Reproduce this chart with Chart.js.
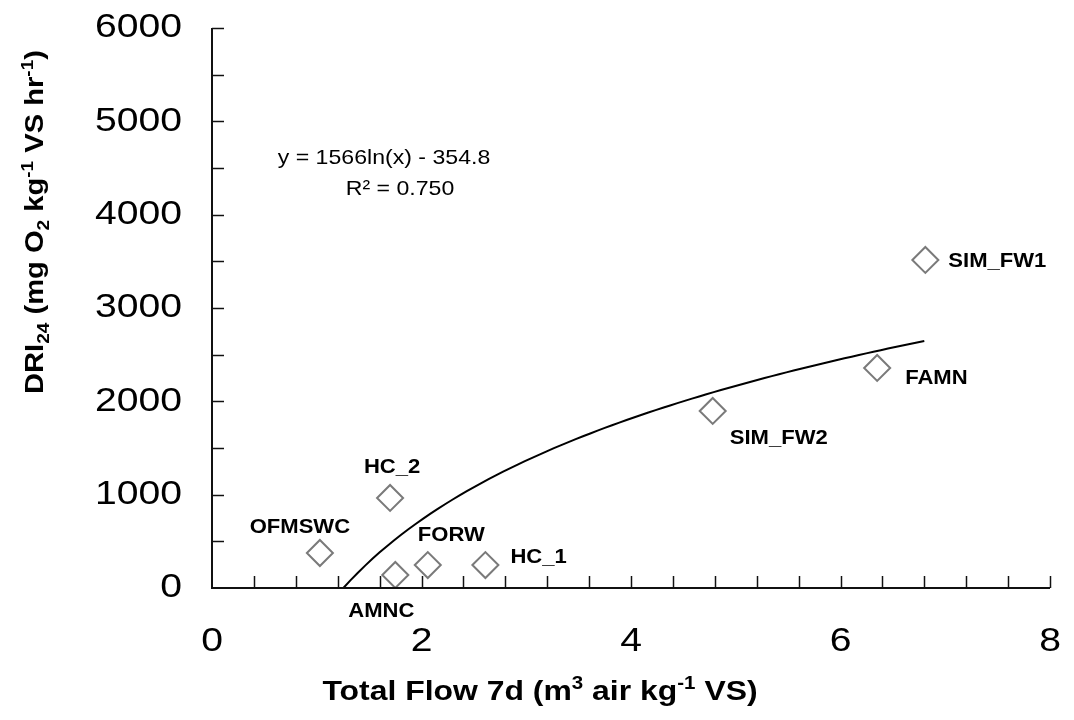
<!DOCTYPE html>
<html><head><meta charset="utf-8">
<script src="https://cdn.jsdelivr.net/npm/chart.js@4.4.0/dist/chart.umd.min.js"></script>
<style>html,body{margin:0;padding:0;background:#fff}#wrap{width:1074px;height:720px}</style>
</head><body><div id="wrap"><canvas id="c" width="1074" height="720"></canvas></div>
<script>
// ---- data ----
const sampleNames = ['OFMSWC','HC_2','AMNC','FORW','HC_1','SIM_FW2','FAMN','SIM_FW1'];
const totalFlow7d = [1.03, 1.70, 1.75, 2.06, 2.61, 4.78, 6.35, 6.81];
const dri24 = [375, 965, 140, 246, 246, 1897, 2358, 3515];
const xTickLabels = [0, 2, 4, 6, 8];
const yTickLabels = [0, 1000, 2000, 3000, 4000, 5000, 6000];
const fitA = 1566, fitB = -354.8, fitR2 = '0.750';
const fitRange = [1.254, 6.8];

// label placement (pixel offsets from the point, style only)
const labelPos = {
  OFMSWC: {dx: -20, dy: -26, align: 'center'},
  HC_2: {dx: 2, dy: -31, align: 'center'},
  AMNC: {dx: -14, dy: 36, align: 'center'},
  FORW: {dx: -10, dy: -30, align: 'left'},
  HC_1: {dx: 25, dy: -8, align: 'left'},
  SIM_FW2: {dx: 17, dy: 27, align: 'left'},
  FAMN: {dx: 28, dy: 10, align: 'left'},
  SIM_FW1: {dx: 23, dy: 1, align: 'left'}
};

const trend = [];
for (let i = 0; i <= 80; i++) {
  const x = fitRange[0] + (fitRange[1] - fitRange[0]) * i / 80;
  trend.push({x: x, y: fitA * Math.log(x) + fitB});
}
const points = totalFlow7d.map((x, i) => ({x: x, y: dri24[i]}));

const SANS = '"Liberation Sans", Arial, sans-serif';

function stretchText(ctx, txt, x, y, font, align, sx) {
  ctx.save();
  ctx.font = font;
  ctx.translate(x, y);
  ctx.scale(sx, 1);
  ctx.textAlign = align;
  ctx.textBaseline = 'middle';
  ctx.fillText(txt, 0, 0);
  ctx.restore();
}

// rich text: segments [{t, s}] s: 0 normal, 1 sup, -1 sub
function richText(ctx, segs, x, y, size, weight, sx, rotate) {
  ctx.save();
  ctx.translate(x, y);
  if (rotate) ctx.rotate(-Math.PI / 2);
  ctx.scale(sx, 1);
  ctx.textBaseline = 'alphabetic';
  ctx.textAlign = 'left';
  const small = Math.round(size * 0.65);
  let total = 0;
  segs.forEach(sg => {
    ctx.font = weight + ' ' + (sg.s ? small : size) + 'px ' + SANS;
    sg.w = ctx.measureText(sg.t).width;
    total += sg.w;
  });
  let cx = -total / 2;
  const base = size * 0.36;
  segs.forEach(sg => {
    ctx.font = weight + ' ' + (sg.s ? small : size) + 'px ' + SANS;
    let dy = 0;
    if (sg.s === 1) dy = -size * 0.38;
    if (sg.s === -1) dy = size * 0.2;
    ctx.fillText(sg.t, cx, base + dy);
    cx += sg.w;
  });
  ctx.restore();
}

const decor = {
  id: 'decor',
  afterDraw(chart) {
    const ctx = chart.ctx;
    const xs = chart.scales.x, ys = chart.scales.y;
    const a = chart.chartArea;
    ctx.save();
    ctx.strokeStyle = '#111';
    ctx.lineWidth = 1.5;
    // inside ticks
    xs.ticks.forEach(t => {
      const px = Math.round(xs.getPixelForValue(t.value)) + 0.5;
      if (t.value <= 0) return;
      ctx.beginPath(); ctx.moveTo(px, a.bottom); ctx.lineTo(px, a.bottom - 12); ctx.stroke();
    });
    ys.ticks.forEach(t => {
      const py = Math.round(ys.getPixelForValue(t.value)) + 0.5;
      if (t.value <= 0) return;
      ctx.beginPath(); ctx.moveTo(a.left, py); ctx.lineTo(a.left + 12, py); ctx.stroke();
    });
    // axis lines
    ctx.lineWidth = 2;
    ctx.beginPath();
    ctx.moveTo(a.left, a.top); ctx.lineTo(a.left, a.bottom); ctx.lineTo(a.right, a.bottom);
    ctx.stroke();
    ctx.fillStyle = '#000';
    // tick labels
    yTickLabels.forEach(v => {
      stretchText(ctx, String(v), a.left - 30, ys.getPixelForValue(v), '34px ' + SANS, 'right', 1.15);
    });
    xTickLabels.forEach(v => {
      stretchText(ctx, String(v), xs.getPixelForValue(v), a.bottom + 54, '34px ' + SANS, 'center', 1.15);
    });
    // data labels
    sampleNames.forEach((n, i) => {
      const p = labelPos[n];
      const px = xs.getPixelForValue(totalFlow7d[i]) + p.dx;
      const py = ys.getPixelForValue(dri24[i]) + p.dy;
      stretchText(ctx, n, px, py, 'bold 21px ' + SANS, p.align, 1.05);
    });
    // equation
    stretchText(ctx, 'y = ' + fitA + 'ln(x) - ' + Math.abs(fitB), 384, 158, '21px ' + SANS, 'center', 1.1);
    stretchText(ctx, 'R² = ' + fitR2, 400, 189, '21px ' + SANS, 'center', 1.1);
    // axis titles
    richText(ctx, [{t: 'Total Flow 7d (m'}, {t: '3', s: 1}, {t: ' air kg'}, {t: '-1', s: 1}, {t: ' VS)'}],
      540, 690, 28, 'bold', 1.14, false);
    richText(ctx, [{t: 'DRI'}, {t: '24', s: -1}, {t: ' (mg O'}, {t: '2', s: -1}, {t: ' kg'}, {t: '-1', s: 1},
      {t: ' VS hr'}, {t: '-1', s: 1}, {t: ')'}], 34, 222, 26, 'bold', 1.12, true);
    ctx.restore();
  }
};

new Chart(document.getElementById('c'), {
  type: 'scatter',
  data: {
    datasets: [
      {
        label: 'samples', data: points, order: 1,
        pointStyle: 'rectRot', pointRadius: 13, pointHoverRadius: 13,
        borderColor: '#7a7a7a', borderWidth: 2, backgroundColor: '#ffffff'
      },
      {
        label: 'fit', type: 'line', data: trend, order: 2, showLine: true,
        borderColor: '#000', borderWidth: 2, pointRadius: 0, fill: false, tension: 0
      }
    ]
  },
  options: {
    responsive: false, animation: false, devicePixelRatio: 1,
    layout: {padding: {top: 28, right: 24, left: 0, bottom: 0}},
    plugins: {legend: {display: false}, tooltip: {enabled: false}},
    scales: {
      x: {
        type: 'linear', min: 0, max: 8,
        ticks: {stepSize: 0.4, display: false},
        grid: {display: false}, border: {display: false},
        afterFit: s => { s.height = 132; }
      },
      y: {
        type: 'linear', min: 0, max: 6000,
        ticks: {stepSize: 500, display: false},
        grid: {display: false}, border: {display: false},
        afterFit: s => { s.width = 212; }
      }
    }
  },
  plugins: [decor]
});
</script>
</body></html>
